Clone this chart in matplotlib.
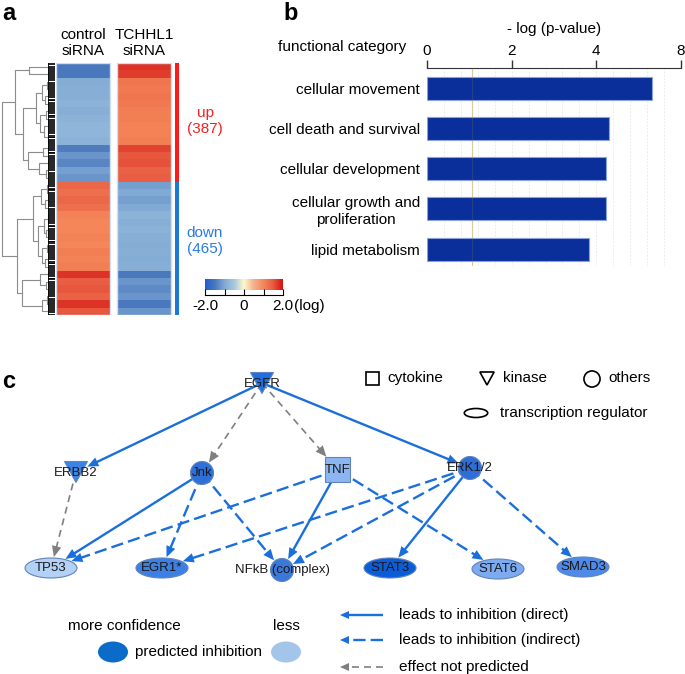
import numpy as np
import matplotlib.pyplot as plt
from matplotlib.colors import LinearSegmentedColormap
from matplotlib.patches import Rectangle, Circle, Ellipse, Polygon

plt.rcParams['font.family'] = ['Liberation Sans', 'DejaVu Sans']

W, H = 685, 674

# ---- panel a: heatmap (log ratio per cluster row, top to bottom)
conditions = ['control\nsiRNA', 'TCHHL1\nsiRNA']
control_log = [-1.5, -1.5,
               -0.95, -0.9, -0.9, -0.85, -0.9, -0.85, -0.8, -0.8, -0.85,
               -1.45, -1.2, -1.35, -1.1, -1.2,
               1.35, 1.25, 1.35, 1.25,
               1.05, 1.0, 1.0, 1.05, 1.0, 1.1, 1.05, 1.1,
               1.75,
               1.45, 1.5, 1.4,
               1.75,
               1.5]
tchhl1_log = [1.75, 1.7,
              1.2, 1.15, 1.2, 1.15, 1.1, 1.1, 1.05, 1.05, 1.1,
              1.65, 1.5, 1.55, 1.4, 1.45,
              -1.1, -1.0, -1.1, -1.0,
              -0.85, -0.9, -0.85, -0.9, -0.95, -0.9, -0.95, -0.9,
              -1.5,
              -1.2, -1.3, -1.2,
              -1.5,
              -1.2]
n_up_rows = 16
up_count, down_count = 387, 465

# dendrogram: (merge height, left, right), leaves are row indices
dendro_tree = (52,
    (39,
        (26, 0, 1),
        (31,
            (19, (13, (8, 2, 3), (10, 4, 5)), (15, (9, 6, 7), (11, 8, (7, 9, 10)))),
            (27, (12, 11, 12), (16, 13, (9, 14, 15))))),
    (37,
        (22,
            (14, (8, 16, 17), (10, 18, 19)),
            (17, (11, (7, 20, 21), (9, 22, 23)), (13, (8, 24, 25), (10, 26, 27)))),
        (32,
            (15, 28, (9, 29, 30)),
            (13, (8, 31, 32), 33))))

# ---- panel b: functional categories
categories = ['cellular movement', 'cell death and survival', 'cellular development',
              'cellular growth and\nproliferation', 'lipid metabolism']
neg_log_p = [6.62, 4.61, 4.46, 4.46, 3.83]
axis_ticks = [0, 2, 4, 8]
threshold = 1.07

# ---- panel c: network
node_names = ['EGFR', 'ERBB2', 'Jnk', 'TNF', 'ERK1/2', 'TP53', 'EGR1*',
              'NFkB (complex)', 'STAT3', 'STAT6', 'SMAD3']
node_x = [262, 76, 202, 338, 470, 51, 162, 282, 390, 498, 583]
node_y = [383, 472, 473, 470, 468, 568, 568, 570, 568, 569, 567]
node_type = ['kinase', 'kinase', 'other', 'cytokine', 'other', 'tr', 'tr',
             'other', 'tr', 'tr', 'tr']
node_color = ['#1f6fe0', '#3d82e6', '#2e6fd8', '#8cb6f2', '#2f6ed6', '#b3d0f7',
              '#3e7fe2', '#3a78da', '#0b5cd8', '#7eabf0', '#4f8ae6']
edges = [('EGFR', 'ERBB2', 'direct'), ('EGFR', 'Jnk', 'none'), ('EGFR', 'TNF', 'none'),
         ('EGFR', 'ERK1/2', 'direct'), ('ERBB2', 'TP53', 'none'),
         ('Jnk', 'TP53', 'direct'), ('Jnk', 'EGR1*', 'indirect'),
         ('Jnk', 'NFkB (complex)', 'indirect'), ('TNF', 'TP53', 'indirect'),
         ('TNF', 'NFkB (complex)', 'direct'), ('TNF', 'STAT6', 'indirect'),
         ('ERK1/2', 'EGR1*', 'indirect'), ('ERK1/2', 'NFkB (complex)', 'indirect'),
         ('ERK1/2', 'STAT3', 'direct'), ('ERK1/2', 'SMAD3', 'indirect')]

BLUE = '#1a6fdc'
GRAY = '#7f7f7f'

fig = plt.figure(figsize=(W / 100, H / 100), dpi=100)


def px_axes(x0, y0, x1, y1):
    return fig.add_axes([x0 / W, 1 - y1 / H, (x1 - x0) / W, (y1 - y0) / H])


def fig_text(x, y, s, **kw):
    kw.setdefault('fontsize', 11)
    kw.setdefault('ha', 'center')
    kw.setdefault('va', 'center')
    fig.text(x / W, 1 - y / H, s, **kw)


cmap = LinearSegmentedColormap.from_list('logratio', [
    (0.0, '#1f5fd6'), (0.125, '#4a78bd'), (0.25, '#80aad4'), (0.375, '#a8c8e0'),
    (0.5, '#fff8c8'), (0.625, '#f4b090'), (0.75, '#f5885a'), (0.875, '#e85a40'),
    (1.0, '#d41010')])

# ================= panel a =================
n_rows = len(control_log)
ax_h = px_axes(56, 63, 180, 315)
col_left = [0, 1.13]
for left, vals in zip(col_left, [control_log, tchhl1_log]):
    ax_h.imshow(np.array(vals)[:, None], extent=[left, left + 1, n_rows, 0],
                aspect='auto', cmap=cmap, vmin=-2, vmax=2, interpolation='nearest')
    ax_h.add_patch(Rectangle((left, 0), 1, n_rows, fill=False, ec='#cfdff0', lw=1))
ax_h.bar(2.24, n_up_rows, bottom=0, width=0.08, color='#ff1a1a')
ax_h.bar(2.24, n_rows - n_up_rows, bottom=n_up_rows, width=0.08, color='#1a78d8')
ax_h.set_xlim(0, 2.3)
ax_h.set_ylim(n_rows, 0)
ax_h.axis('off')

for left, lab in zip(col_left, conditions):
    fig_text(56 + (left + 0.5) * 124 / 2.3, 43, lab, linespacing=1.15)

fig_text(205, 121, 'up\n(%d)' % up_count, color='#f52020', linespacing=1.2)
fig_text(205, 241, 'down\n(%d)' % down_count, color='#2a7ae6', linespacing=1.2)

# dendrogram
ax_d = px_axes(0, 63, 55, 315)
leaf_h = 7


def draw_tree(node):
    if isinstance(node, int):
        return node + 0.5, leaf_h
    h, left, right = node
    yl, hl = draw_tree(left)
    yr, hr = draw_tree(right)
    ax_d.plot([hl, h, h, hr], [yl, yl, yr, yr], color='#8c8c8c', lw=0.8)
    return (yl + yr) / 2, h


draw_tree(dendro_tree)
# dense gene-level leaves
for i in range(n_rows):
    ax_d.plot([leaf_h, leaf_h], [i + 0.05, i + 0.95], color='black', lw=0.6)
    for k in (0.05, 0.2, 0.35, 0.5, 0.65, 0.8, 0.95):
        ax_d.plot([0, leaf_h], [i + k, i + k], color='black', lw=0.6)
ax_d.set_xlim(54, 0)
ax_d.set_ylim(n_rows, 0)
ax_d.axis('off')

# colour key
ax_cb = px_axes(205, 279, 283, 290)
ax_cb.imshow(np.linspace(-2, 2, 256)[None, :], extent=[-2, 2, 0, 1], aspect='auto',
             cmap=cmap, vmin=-2, vmax=2)
ax_cb.axis('off')
ax_ct = px_axes(205, 290, 283, 295)
ax_ct.set_xlim(-2, 2)
ax_ct.set_yticks([])
for s in ['top', 'left', 'right']:
    ax_ct.spines[s].set_visible(False)
ax_ct.patch.set_visible(False)
ax_ct.set_xticks([-2, -1, 0, 1, 2], ['-2.0', '', '0', '', '2.0'])
ax_ct.tick_params(axis='x', direction='in', length=4, labelsize=11, pad=3)
fig_text(294, 306, '(log)', ha='left')

# ================= panel b =================
ax_b = px_axes(427, 68, 681, 266)
slots = list(range(len(axis_ticks)))
ax_b.set_xscale('function', functions=(lambda v: np.interp(v, axis_ticks, slots),
                                       lambda s: np.interp(s, slots, axis_ticks)))
ax_b.set_xlim(axis_ticks[0], axis_ticks[-1])
ypos = np.arange(len(categories))
for g in np.arange(0.2, 3.01, 0.2):
    ax_b.axvline(np.interp(g, slots, axis_ticks), color='#e6e6e6', lw=0.6,
                 ls=(0, (2, 2)), zorder=0)
ax_b.axvline(threshold, color='#eedfae', lw=0.9, zorder=0)
ax_b.barh(ypos, neg_log_p, height=0.57, color='#0b2f9a', edgecolor='#8aa2da',
          lw=0.8, zorder=2)
ax_b.axvline(threshold, color='#8a8060', lw=0.6, alpha=0.25, zorder=3)
ax_b.set_ylim(len(categories) - 0.58, -0.5)
ax_b.set_yticks(ypos, categories)
for lbl in ax_b.get_yticklabels():
    lbl.set_multialignment('center')
ax_b.tick_params(axis='y', length=0, pad=5, labelsize=11)
ax_b.xaxis.tick_top()
ax_b.xaxis.set_label_position('top')
ax_b.set_xticks(axis_ticks, [str(t) for t in axis_ticks])
ax_b.tick_params(axis='x', direction='out', length=6, width=1, pad=1, labelsize=11,
                 color='#333333')
ax_b.set_xlabel('- log (p-value)', fontsize=11, labelpad=8)
for s in ['bottom', 'left', 'right']:
    ax_b.spines[s].set_visible(False)
ax_b.spines['top'].set_color('#333333')
fig_text(342, 47, 'functional category')

# ================= panel c =================
ax_c = px_axes(0, 340, W, H)
ax_c.set_xlim(0, W)
ax_c.set_ylim(H, 340)
ax_c.axis('off')


def add_shape(ax, kind, x, y, color, size=1.0, ec='#5f84bd', lw=0.8, fill=True):
    fc = color if fill else 'none'
    if kind == 'kinase':
        w, h = 23 * size, 21 * size
        p = Polygon([(x - w / 2, y - h / 2), (x + w / 2, y - h / 2), (x, y + h / 2)],
                    closed=True, fc=fc, ec=ec, lw=lw)
    elif kind == 'cytokine':
        s = 25 * size
        p = Rectangle((x - s / 2, y - s / 2), s, s, fc=fc, ec=ec, lw=lw)
    elif kind == 'other':
        p = Circle((x, y), 11.5 * size, fc=fc, ec=ec, lw=lw)
    else:
        p = Ellipse((x, y), 52 * size, 20 * size, fc=fc, ec=ec, lw=lw)
    p.set_zorder(4)
    ax.add_patch(p)


def reach(kind, ux, uy):
    if kind == 'tr':
        return 1 / np.sqrt((ux / 26) ** 2 + (uy / 10) ** 2)
    if kind == 'cytokine':
        return 12.5 / max(abs(ux), abs(uy))
    return 11.5


def arrow(ax, x0, y0, x1, y1, color, lw, dashes=None, head_len=11, head_w=9.5):
    dx, dy = x1 - x0, y1 - y0
    L = np.hypot(dx, dy)
    ux, uy = dx / L, dy / L
    bx, by = x1 - ux * head_len, y1 - uy * head_len
    kw = dict(color=color, lw=lw, zorder=2, solid_capstyle='butt')
    if dashes:
        kw['dashes'] = dashes
    ax.plot([x0, bx + ux], [y0, by + uy], **kw)
    nx, ny = -uy, ux
    ax.add_patch(Polygon([(x1, y1), (bx + nx * head_w / 2, by + ny * head_w / 2),
                          (bx - nx * head_w / 2, by - ny * head_w / 2)],
                         closed=True, fc=color, ec='none', zorder=3))


edge_style = {'direct': (BLUE, 1.7, None),
              'indirect': (BLUE, 1.7, (5.2, 2.2)),
              'none': (GRAY, 1.2, (4.2, 3.0))}
idx = {n: i for i, n in enumerate(node_names)}
for src, dst, kind in edges:
    i, j = idx[src], idx[dst]
    x0, y0, x1, y1 = node_x[i], node_y[i], node_x[j], node_y[j]
    L = np.hypot(x1 - x0, y1 - y0)
    ux, uy = (x1 - x0) / L, (y1 - y0) / L
    r = reach(node_type[j], ux, uy) + 1
    color, lw, dashes = edge_style[kind]
    arrow(ax_c, x0, y0, x1 - ux * r, y1 - uy * r, color, lw, dashes)

for n, x, y, t, c in zip(node_names, node_x, node_y, node_type, node_color):
    add_shape(ax_c, t, x, y, c)
    ty = y + 1 if t == 'kinase' else y
    ax_c.text(x, ty, n, ha='center', va='center', fontsize=9.5, color='#1a1a1a', zorder=5)

# shape legend
add_shape(ax_c, 'cytokine', 372.5, 378.5, 'none', size=0.52, ec='black', lw=1.2, fill=False)
ax_c.text(387, 378, 'cytokine', fontsize=11, va='center')
add_shape(ax_c, 'kinase', 487, 378.5, 'none', size=0.62, ec='black', lw=1.2, fill=False)
ax_c.text(503, 378, 'kinase', fontsize=11, va='center')
add_shape(ax_c, 'other', 592, 379, 'none', size=0.7, ec='black', lw=1.2, fill=False)
ax_c.text(608, 378, 'others', fontsize=11, va='center')
add_shape(ax_c, 'tr', 476, 413, 'none', size=0.45, ec='black', lw=1.2, fill=False)
ax_c.text(500, 413, 'transcription regulator', fontsize=11, va='center')

# confidence legend
ax_c.text(124.5, 626, 'more confidence', fontsize=11, ha='center', va='center')
ax_c.text(286, 626, 'less', fontsize=11, ha='center', va='center')
ax_c.add_patch(Ellipse((113, 652), 30, 21, fc='#0a6cc8', ec='none'))
ax_c.add_patch(Ellipse((286, 652), 30, 21, fc='#a3c5ea', ec='none'))
ax_c.text(199, 652, 'predicted inhibition', fontsize=11, ha='center', va='center')

# relation legend
legend_rows = [('leads to inhibition (direct)', 'direct', 615),
               ('leads to inhibition (indirect)', 'indirect', 640),
               ('effect not predicted', 'none', 667)]
for label, kind, y in legend_rows:
    color, lw, dashes = edge_style[kind]
    arrow(ax_c, 383, y, 340, y, color, lw, dashes, head_len=9, head_w=8)
    ax_c.text(399, y, label, fontsize=11, va='center')

# panel letters
fig_text(9, 14, 'a', fontsize=17, fontweight='bold')
fig_text(291, 14, 'b', fontsize=17, fontweight='bold')
fig_text(9, 382, 'c', fontsize=17, fontweight='bold')

fig.savefig('out.png', dpi=100)
